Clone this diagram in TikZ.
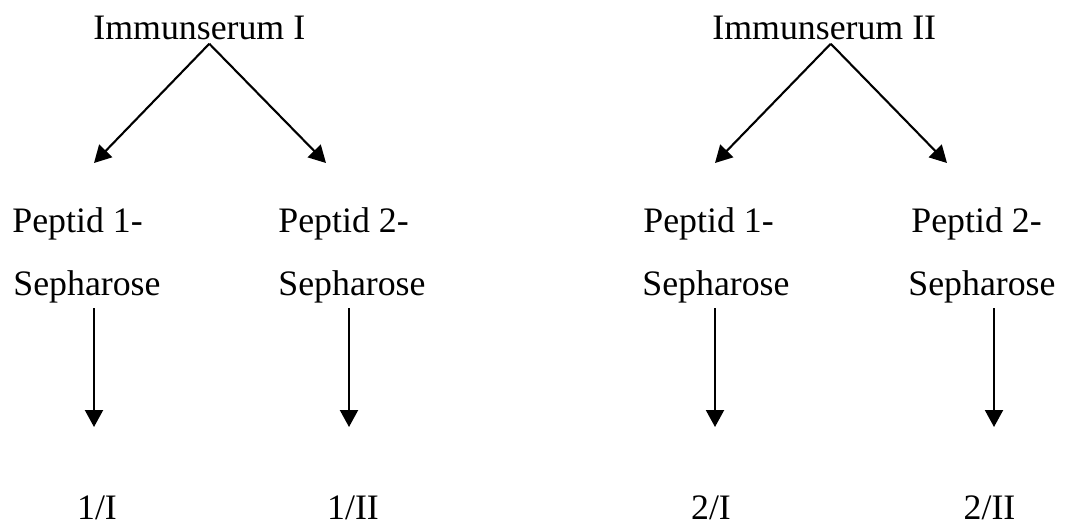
\documentclass[tikz,border=0pt]{standalone}
\usepackage{fontspec}
\setmainfont{Liberation Serif}
\usetikzlibrary{arrows.meta}
\begin{document}
\begin{tikzpicture}[x=0.5pt,y=-0.5pt,
  txt/.style={inner sep=0pt,anchor=base west,font=\fontsize{17.9}{21}\selectfont},
  res/.style={txt,anchor=base},
  arr/.style={-{Triangle[length=8.5pt,width=9pt]},line width=1.05pt}]
\useasboundingbox (0,0) rectangle (1075,526);
\node[txt] (imm1) at (93,39) {Immunserum I};
\node[txt] (imm2) at (712,39) {Immunserum II};
\node[txt] (pep11) at (12,232) {Peptid 1-};
\node[txt] (sep11) at (13,295) {Sepharose};
\node[txt] (pep12) at (278,232) {Peptid 2-};
\node[txt] (sep12) at (278,295) {Sepharose};
\node[txt] (pep21) at (643,232) {Peptid 1-};
\node[txt] (sep21) at (642,295) {Sepharose};
\node[txt] (pep22) at (911,232) {Peptid 2-};
\node[txt] (sep22) at (908,295) {Sepharose};
\node[res] (r11) at (97,519) {1/I};
\node[res] (r12) at (353,519) {1/II};
\node[res] (r21) at (711,519) {2/I};
\node[res] (r22) at (989.5,519) {2/II};
\coordinate (t11) at (94,163);
\coordinate (t12) at (326,163);
\coordinate (t21) at (715,163);
\coordinate (t22) at (947,163);
\coordinate (d11) at (94,427);
\coordinate (d12) at (349,427);
\coordinate (d21) at (715,427);
\coordinate (d22) at (994,427);
\draw[arr] ([xshift=5pt,yshift=-2pt]imm1.south) -- (t11);
\draw[arr] ([xshift=5pt,yshift=-2pt]imm1.south) -- (t12);
\draw[arr] ([xshift=3.25pt,yshift=-2pt]imm2.south) -- (t21);
\draw[arr] ([xshift=3.25pt,yshift=-2pt]imm2.south) -- (t22);
\draw[arr,shorten <=2.5pt] (sep11.south -| d11) -- (d11);
\draw[arr,shorten <=2.5pt] (sep12.south -| d12) -- (d12);
\draw[arr,shorten <=2.5pt] (sep21.south -| d21) -- (d21);
\draw[arr,shorten <=2.5pt] (sep22.south -| d22) -- (d22);
\end{tikzpicture}
\end{document}
